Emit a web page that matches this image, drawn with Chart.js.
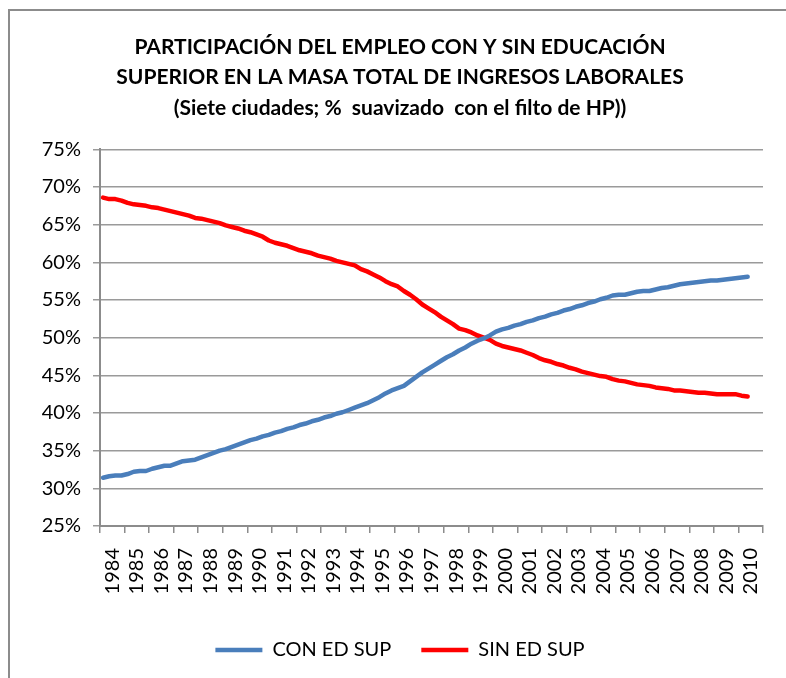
<!DOCTYPE html>
<html>
<head>
<meta charset="utf-8">
<script src="https://cdn.jsdelivr.net/npm/chart.js@4"></script>
<style>
    body { margin: 0; background: #fff; overflow: hidden; }
    #wrap { position: relative; width: 786px; height: 678px; }
    #frame { position: absolute; left: 8px; top: 9px; width: 820px; height: 720px; border: 2px solid #8c8c8c; }
    #chart { position: absolute; left: 0; top: 0; }
</style>
</head>
<body>
<div id="wrap">
    <div id="frame"></div>
    <canvas id="chart" width="786" height="678"></canvas>
</div>
<script>
// Years on the category axis
const years = [1984, 1985, 1986, 1987, 1988, 1989, 1990, 1991, 1992, 1993, 1994, 1995, 1996, 1997,
    1998, 1999, 2000, 2001, 2002, 2003, 2004, 2005, 2006, 2007, 2008, 2009, 2010];

// Quarterly values (1984-I ... 2010-II), % of total labour income
const conEdSup = [
    31.4, 31.6, 31.7, 31.7,
    31.9, 32.2, 32.3, 32.3,
    32.6, 32.8, 33.0, 33.0,
    33.3, 33.6, 33.7, 33.8,
    34.1, 34.4, 34.7, 35.0,
    35.2, 35.5, 35.8, 36.1,
    36.4, 36.6, 36.9, 37.1,
    37.4, 37.6, 37.9, 38.1,
    38.4, 38.6, 38.9, 39.1,
    39.4, 39.6, 39.9, 40.1,
    40.4, 40.7, 41.0, 41.3,
    41.7, 42.1, 42.6, 43.0,
    43.3, 43.6, 44.2, 44.8,
    45.4, 45.9, 46.4, 46.9,
    47.4, 47.8, 48.3, 48.7,
    49.2, 49.6, 49.9, 50.3,
    50.8, 51.1, 51.3, 51.6,
    51.8, 52.1, 52.3, 52.6,
    52.8, 53.1, 53.3, 53.6,
    53.8, 54.1, 54.3, 54.6,
    54.8, 55.1, 55.3, 55.6,
    55.7, 55.7, 55.9, 56.1,
    56.2, 56.2, 56.4, 56.6,
    56.7, 56.9, 57.1, 57.2,
    57.3, 57.4, 57.5, 57.6,
    57.6, 57.7, 57.8, 57.9,
    58.0, 58.1
];

const sinEdSup = [
    68.6, 68.4, 68.4, 68.2,
    67.9, 67.7, 67.6, 67.5,
    67.3, 67.2, 67.0, 66.8,
    66.6, 66.4, 66.2, 65.9,
    65.8, 65.6, 65.4, 65.2,
    64.9, 64.7, 64.5, 64.2,
    64.0, 63.7, 63.4, 62.9,
    62.6, 62.4, 62.2, 61.9,
    61.6, 61.4, 61.2, 60.9,
    60.7, 60.5, 60.2, 60.0,
    59.8, 59.6, 59.1, 58.8,
    58.4, 58.0, 57.5, 57.1,
    56.8, 56.2, 55.7, 55.1,
    54.4, 53.9, 53.4, 52.8,
    52.3, 51.8, 51.2, 51.0,
    50.7, 50.3, 50.0, 49.7,
    49.2, 48.9, 48.7, 48.5,
    48.3, 48.0, 47.7, 47.3,
    47.0, 46.8, 46.5, 46.3,
    46.0, 45.8, 45.5, 45.3,
    45.1, 44.9, 44.8, 44.5,
    44.3, 44.2, 44.0, 43.8,
    43.7, 43.6, 43.4, 43.3,
    43.2, 43.0, 43.0, 42.9,
    42.8, 42.7, 42.7, 42.6,
    42.5, 42.5, 42.5, 42.5,
    42.3, 42.2
];

const yTicks = [25, 30, 35, 40, 45, 50, 55, 60, 65, 70, 75];

const titleLines = [
    'PARTICIPACIÓN DEL EMPLEO CON Y SIN EDUCACIÓN',
    'SUPERIOR EN LA MASA TOTAL DE INGRESOS LABORALES',
    '(Siete ciudades; %  suavizado  con el filto de HP))'
];

const FONT = "Lato, 'Open Sans', sans-serif";

// Quarter i sits in the middle of its quarter slot within the year
function toPoints(values) {
    return values.map((v, i) => ({ x: years[0] + Math.floor(i / 4) + ((i % 4) + 0.5) / 4, y: v }));
}

const ctx = document.getElementById('chart').getContext('2d');

new Chart(ctx, {
    type: 'line',
    data: {
        labels: years.map(String),
        datasets: [{
            label: 'CON ED SUP',
            data: toPoints(conEdSup),
            xAxisID: 'xq',
            borderColor: '#4a7ebb',
            backgroundColor: '#4a7ebb',
            borderWidth: 4.5,
            pointRadius: 0,
            tension: 0,
            borderCapStyle: 'round',
            borderJoinStyle: 'round'
        }, {
            label: 'SIN ED SUP',
            data: toPoints(sinEdSup),
            xAxisID: 'xq',
            borderColor: '#ff0000',
            backgroundColor: '#ff0000',
            borderWidth: 4.5,
            pointRadius: 0,
            tension: 0,
            borderCapStyle: 'round',
            borderJoinStyle: 'round'
        }]
    },
    options: {
        responsive: false,
        animation: false,
        layout: {
            padding: { left: 37, right: 23, top: 12, bottom: 8 }
        },
        plugins: {
            title: {
                display: true,
                text: titleLines,
                color: '#000',
                font: { family: FONT, size: 21, weight: 'bold', lineHeight: 1.45 },
                padding: { top: 20, bottom: 26 }
            },
            legend: {
                position: 'bottom',
                labels: {
                    color: '#000',
                    font: { family: FONT, size: 20 },
                    usePointStyle: true,
                    pointStyle: 'line',
                    pointStyleWidth: 47,
                    padding: 30
                }
            },
            tooltip: { enabled: false }
        },
        scales: {
            x: {
                type: 'category',
                offset: true,
                grid: {
                    offset: true,
                    drawOnChartArea: false,
                    drawTicks: true,
                    tickLength: 7,
                    color: '#8c8c8c',
                    lineWidth: 1.5
                },
                border: { color: '#8c8c8c', width: 2 },
                ticks: {
                    color: '#000',
                    font: { family: FONT, size: 20 },
                    minRotation: 90,
                    maxRotation: 90,
                    autoSkip: false,
                    padding: 15
                },
                afterFit: function(scale) {
                    scale.height = 84;
                    // rotated year labels fit inside their slots, no side overhang
                    scale.paddingLeft = 0;
                    scale.paddingRight = 0;
                }
            },
            xq: {
                type: 'linear',
                display: false,
                min: years[0],
                max: years[years.length - 1] + 1
            },
            y: {
                min: 25,
                max: 75,
                afterBuildTicks: function(scale) {
                    scale.ticks = yTicks.map(v => ({ value: v }));
                },
                grid: {
                    color: '#9a9a9a',
                    lineWidth: 1.5,
                    tickLength: 7
                },
                border: { color: '#8c8c8c', width: 2 },
                ticks: {
                    color: '#000',
                    font: { family: FONT, size: 20 },
                    padding: 12,
                    callback: function(value) {
                        return value + '%';
                    }
                },
                afterFit: function(scale) {
                    scale.width = 63;
                }
            }
        }
    }
});
</script>
</body>
</html>
